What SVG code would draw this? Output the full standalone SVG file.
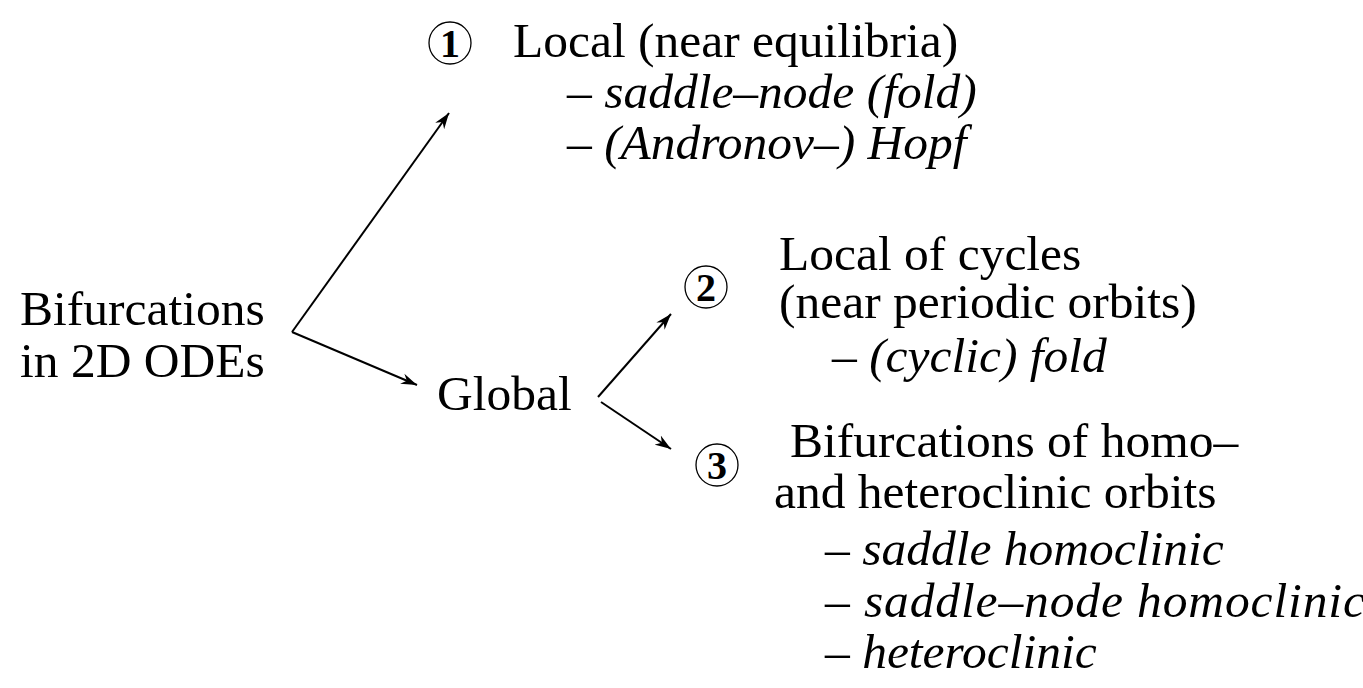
<svg xmlns="http://www.w3.org/2000/svg" width="1363" height="688" viewBox="0 0 1363 688">
  <style>
    text { font-family: "Nimbus Roman", "Times", serif; font-size: 49.5px; fill: #000; }
    .it { font-style: italic; }
    .num { font-weight: bold; text-anchor: middle; font-size: 40px; }
    .ring { fill: none; stroke: #000; stroke-width: 1.3; }
    .edge { fill: none; stroke: #000; stroke-width: 2; }
  </style>
  <defs>
    <marker id="arrow" viewBox="-16 -6 18 12" markerWidth="18" markerHeight="12" refX="0" refY="0" orient="auto" markerUnits="userSpaceOnUse">
      <path d="M0,0 L-16,-5.5 L-11,0 L-16,5.5 Z" fill="#000"/>
    </marker>
  </defs>

  <!-- branching arrows -->
  <g id="connectors">
    <path class="edge" d="M292,332 L449,113" marker-end="url(#arrow)"/>
    <path class="edge" d="M292,332 L417,385" marker-end="url(#arrow)"/>
    <path class="edge" d="M598,397 L671,314" marker-end="url(#arrow)"/>
    <path class="edge" d="M601,402 L671,449" marker-end="url(#arrow)"/>
  </g>

  <g id="root">
    <text x="20" y="325">Bifurcations</text>
    <text x="20" y="377">in 2D ODEs</text>
  </g>

  <g id="global">
    <text x="437" y="410">Global</text>
  </g>

  <g id="local-equilibria">
    <circle class="ring" cx="450" cy="43" r="21"/>
    <text class="num" x="450" y="57">1</text>
    <text x="513" y="57">Local (near equilibria)</text>
    <text x="567" y="108">– <tspan class="it">saddle–node (fold)</tspan></text>
    <text x="567" y="159">– <tspan class="it">(Andronov–) Hopf</tspan></text>
  </g>

  <g id="local-cycles">
    <circle class="ring" cx="706" cy="287" r="21"/>
    <text class="num" x="706" y="301">2</text>
    <text x="779" y="270">Local of cycles</text>
    <text x="779" y="318">(near periodic orbits)</text>
    <text x="832" y="372">– <tspan class="it">(cyclic) fold</tspan></text>
  </g>

  <g id="homoclinic">
    <circle class="ring" cx="717" cy="465" r="21"/>
    <text class="num" x="717" y="479">3</text>
    <text x="790" y="457">Bifurcations of homo–</text>
    <text x="774" y="508">and heteroclinic orbits</text>
    <text x="825" y="565">– <tspan class="it">saddle homoclinic</tspan></text>
    <text x="825" y="617" textLength="540" lengthAdjust="spacing">– <tspan class="it">saddle–node homoclinic</tspan></text>
    <text x="825" y="668">– <tspan class="it">heteroclinic</tspan></text>
  </g>
</svg>
